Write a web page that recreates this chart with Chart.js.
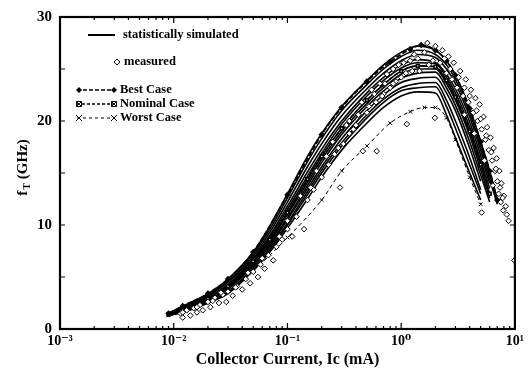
<!DOCTYPE html>
<html>
<head>
<meta charset="utf-8">
<script src="https://cdn.jsdelivr.net/npm/chart.js@4.4.1/dist/chart.umd.min.js"></script>
<style>
  body { margin: 0; background: #fff; }
  canvas { display: block; }
</style>
</head>
<body>
<canvas id="chart" width="528" height="378"></canvas>
<script>
// x grid (mA) shared by the simulated curves
const xGrid = [0.009, 0.012, 0.02, 0.03, 0.05, 0.07, 0.1, 0.15, 0.2, 0.3, 0.5, 0.7, 1, 1.4, 2, 2.5, 3, 4, 5, 6, 7];

// statistically simulated fT curves (GHz)
const simA = [1.5, 2.2, 3.4, 4.8, 7.4, 9.9, 13.0, 16.6, 18.8, 21.4, 23.9, 25.4, 26.6, 27.2, 26.8, 25.8, 24.4, 21.2, 18.0, 15.2, 12.4];
const simI = [1.5, 2.1, 3.3, 4.6, 7.2, 9.6, 12.6, 16.1, 18.3, 21.0, 23.5, 25.0, 26.2, 26.8, 26.4, 25.4, 24.0, 20.8, 17.6, 14.8, 12.2];
const simB = [1.5, 2.1, 3.2, 4.5, 7.0, 9.3, 12.2, 15.6, 17.8, 20.5, 23.1, 24.6, 25.8, 26.4, 26.1, 25.0, 23.6, 20.4, 17.2, 14.4, 12.0];
const simL = [1.5, 2.0, 3.1, 4.3, 6.8, 9.0, 11.8, 15.1, 17.3, 20.0, 22.7, 24.2, 25.4, 25.9, 25.6, 24.5, 23.1, 19.9, 16.7, 14.0, null];
const simC = [1.4, 2.0, 3.0, 4.2, 6.7, 8.8, 11.5, 14.7, 16.9, 19.7, 22.4, 23.9, 25.1, 25.6, 25.5, 24.2, 22.7, 19.4, 16.2, 13.5, null];
const simD = [1.4, 1.9, 2.9, 4.1, 6.5, 8.6, 11.2, 14.4, 16.6, 19.3, 22.0, 23.5, 24.8, 25.3, 25.2, 23.9, 22.3, 19.0, 15.8, 13.0, null];
const simJ = [1.4, 1.9, 2.9, 4.0, 6.4, 8.4, 11.0, 14.1, 16.3, 19.0, 21.7, 23.2, 24.5, 25.0, 25.0, 23.6, 22.0, 18.6, 15.3, 12.6, null];
const simE = [1.4, 1.8, 2.8, 3.9, 6.2, 8.2, 10.7, 13.8, 16.0, 18.7, 21.4, 22.9, 24.1, 24.6, 24.7, 23.2, 21.5, 18.0, 14.8, 12.2, null];
const simF = [1.4, 1.8, 2.7, 3.8, 6.1, 8.0, 10.5, 13.5, 15.6, 18.3, 21.0, 22.5, 23.7, 24.1, 24.2, 22.7, 21.0, 17.4, 14.2, null, null];
const simK = [1.3, 1.7, 2.6, 3.6, 5.9, 7.8, 10.2, 13.2, 15.3, 17.9, 20.6, 22.1, 23.2, 23.6, 23.7, 22.0, 20.0, 16.5, 13.4, null, null];
const simG = [1.3, 1.7, 2.5, 3.5, 5.7, 7.6, 10.0, 12.9, 15.0, 17.6, 20.3, 21.8, 22.9, 23.2, 23.3, 21.4, 19.3, 15.8, 13.0, null, null];
const simH = [1.3, 1.6, 2.5, 3.4, 5.6, 7.4, 9.7, 12.5, 14.6, 17.2, 19.8, 21.3, 22.4, 22.8, 22.7, 20.6, 18.4, 15.0, 12.4, null, null];

// corner cases
const bestX = [0.009, 0.012, 0.02, 0.03, 0.05, 0.1, 0.2, 0.3, 0.5, 0.8, 1.2, 1.5, 2, 2.5, 3, 4, 5, 6, 7];
const bestY = [1.5, 2.2, 3.4, 4.8, 7.4, 12.9, 18.7, 21.3, 23.8, 25.7, 26.9, 27.3, 26.8, 25.8, 24.4, 21.2, 18.0, 15.2, 12.4];
const nominalX = [0.009, 0.012, 0.02, 0.03, 0.05, 0.07, 0.1, 0.15, 0.2, 0.3, 0.5, 0.7, 1, 1.4, 2, 2.5, 3, 4, 5, 6];
const nominalY = [1.4, 1.9, 2.9, 4.1, 6.5, 8.6, 11.2, 14.4, 16.6, 19.3, 22.0, 23.5, 24.8, 25.3, 25.2, 23.9, 22.3, 19.0, 15.8, 13.0];
const worstX = [0.009, 0.012, 0.02, 0.03, 0.05, 0.1, 0.2, 0.3, 0.5, 0.8, 1.2, 1.6, 2, 2.5, 3, 4, 5];
const worstY = [1.3, 1.6, 2.6, 3.7, 5.6, 8.8, 12.4, 15.2, 17.6, 19.8, 20.9, 21.3, 21.3, 20.3, 18.2, 14.6, 12.0];

// measured points
const measuredX = [0.0115, 0.012, 0.013, 0.014, 0.015, 0.016, 0.017, 0.018, 0.02, 0.021, 0.023, 0.025, 0.027, 0.029, 0.03, 0.033, 0.036, 0.04, 0.043, 0.047, 0.05, 0.055, 0.058, 0.063, 0.068, 0.075, 0.08, 0.09, 0.1, 0.11, 0.12, 0.14, 0.15, 0.17, 0.2, 0.23, 0.26, 0.29, 0.31, 0.35, 0.4, 0.46, 0.5, 0.61, 0.6, 0.7, 0.8, 0.9, 1.0, 1.12, 1.1, 1.98,
  0.012, 0.016, 0.022, 0.026, 0.035, 0.045, 0.06, 0.085, 0.1, 0.13, 0.16, 0.22, 0.28, 0.33, 0.38, 0.42, 0.52, 0.58, 0.68, 0.72, 0.85, 1.05, 1.25, 1.4, 1.45, 1.6, 1.75,
  0.18, 0.25, 0.35, 0.45, 0.55, 0.65, 0.75, 0.85, 0.95, 1.2, 1.3,
  1.7, 2.0, 2.3, 2.6, 2.9, 3.3, 3.7, 4.1, 4.5, 4.9, 5.3, 5.7, 6.1, 6.5, 6.9, 7.3, 7.6, 8.0, 8.3, 8.5, 8.8,
  1.9, 2.2, 2.5, 2.8, 3.1, 3.5, 3.9, 4.3, 4.7, 5.1, 5.5, 5.9, 6.3, 6.7, 7.0, 7.2, 7.5, 7.9, 3.6, 4.4, 5.4, 6.4, 5.1, 9.9,
  2.4, 2.7, 3.2, 3.6, 4.0, 4.6, 5.0, 5.6, 6.2, 6.8, 7.4, 7.8];
const measuredY = [1.5, 1.1, 1.8, 1.3, 2.0, 1.6, 2.3, 1.8, 2.6, 2.1, 3.0, 2.5, 3.3, 2.6, 3.6, 3.2, 4.1, 3.8, 4.8, 4.4, 5.5, 5.0, 6.2, 5.8, 7.1, 6.6, 7.9, 8.6, 9.6, 8.9, 10.8, 9.6, 12.4, 13.4, 14.6, 15.8, 16.8, 13.6, 17.8, 18.8, 19.6, 17.1, 20.8, 17.1, 21.8, 22.6, 23.2, 23.8, 24.2, 19.7, 24.6, 20.3,
  1.6, 2.1, 2.7, 3.5, 4.0, 5.4, 6.8, 8.9, 10.4, 12.8, 13.6, 16.6, 17.4, 19.6, 19.2, 20.6, 21.4, 22.6, 22.4, 23.6, 23.6, 25.6, 24.8, 26.0, 24.8, 26.6, 25.4,
  15.2, 18.0, 20.0, 21.8, 23.0, 23.6, 24.5, 25.0, 25.4, 25.8, 26.4,
  27.5, 27.2, 26.8, 26.2, 25.6, 24.8, 24.0, 23.0, 22.2, 21.6, 20.4, 19.4, 18.4, 17.4, 16.4, 15.2, 14.0, 12.8, 11.8, 11.0, 10.4,
  25.8, 25.6, 24.6, 24.0, 23.2, 22.4, 21.8, 20.8, 20.0, 19.2, 18.2, 17.2, 16.2, 15.2, 14.2, 13.0, 12.2, 11.4, 20.6, 18.8, 16.2, 13.8, 11.2, 6.6,
  26.0, 25.0, 24.2, 23.2, 22.4, 21.0, 20.2, 18.6, 17.0, 15.4, 13.6, 12.6];

const xTickValues = [0.001, 0.01, 0.1, 1, 10];
const xTickLabels = ['10\u207B\u00B3', '10\u207B\u00B2', '10\u207B\u00B9', '10\u2070', '10\u00B9'];
const legendLabels = ['statistically simulated', 'measured', 'Best Case', 'Nominal Case', 'Worst Case'];

const FONT = '"Liberation Serif", "DejaVu Serif", serif';

const toPts = (xs, ys) => xs.map((x, i) => ({ x: x, y: ys[i] }));

const simSets = [simA, simI, simB, simL, simC, simD, simJ, simE, simF, simK, simG, simH].map(ys => ({
  type: 'line',
  data: toPts(xGrid, ys),
  borderColor: '#000',
  borderWidth: 1.6,
  pointRadius: 0,
  cubicInterpolationMode: 'monotone',
  fill: false
}));

// frame, inward ticks, legend and y title
const decorPlugin = {
  id: 'decor',
  afterDraw(chart) {
    const ctx = chart.ctx;
    const a = chart.chartArea;
    const xs = chart.scales.x, ys = chart.scales.y;
    ctx.save();
    ctx.strokeStyle = '#000';
    ctx.lineWidth = 2.2;
    ctx.strokeRect(a.left, a.top, a.right - a.left, a.bottom - a.top);

    ctx.lineWidth = 1.2;
    ctx.beginPath();
    for (let v = 0; v <= 30; v += 5) {
      const py = ys.getPixelForValue(v);
      ctx.moveTo(a.left, py); ctx.lineTo(a.left + 5, py);
      ctx.moveTo(a.right, py); ctx.lineTo(a.right - 5, py);
    }
    for (let d = -3; d <= 0; d++) {
      for (let m = 1; m <= 9; m++) {
        const px = xs.getPixelForValue(m * Math.pow(10, d));
        const len = m === 1 ? 6 : 3;
        ctx.moveTo(px, a.bottom); ctx.lineTo(px, a.bottom - len);
        ctx.moveTo(px, a.top); ctx.lineTo(px, a.top + len);
      }
    }
    ctx.stroke();

    // legend
    ctx.fillStyle = '#000';
    ctx.font = 'bold 12.5px ' + FONT;
    ctx.textBaseline = 'middle';
    ctx.lineWidth = 2;
    ctx.beginPath(); ctx.moveTo(88, 35); ctx.lineTo(115, 35); ctx.stroke();
    ctx.fillText(legendLabels[0], 123, 35);

    drawMarker(ctx, 'diamondOpen', 117, 62);
    ctx.fillText(legendLabels[1], 124, 62);

    const rows = [[90, 'diamond', [4, 2]], [104, 'square', [3, 2]], [118, 'cross', [3, 3]]];
    rows.forEach((r, i) => {
      ctx.lineWidth = i === 2 ? 1 : 1.6;
      ctx.setLineDash(r[2]);
      ctx.beginPath(); ctx.moveTo(77, r[0]); ctx.lineTo(115, r[0]); ctx.stroke();
      ctx.setLineDash([]);
      drawMarker(ctx, r[1], 79, r[0]);
      drawMarker(ctx, r[1], 114, r[0]);
      ctx.fillText(legendLabels[i + 2], 120, r[0]);
    });

    // y axis title: f_T (GHz)
    ctx.translate(22, 168);
    ctx.rotate(-Math.PI / 2);
    ctx.textBaseline = 'alphabetic';
    ctx.font = 'bold 15px ' + FONT;
    const w1 = ctx.measureText('f').width;
    ctx.font = 'bold 10px ' + FONT;
    const w2 = ctx.measureText('T').width;
    ctx.font = 'bold 15px ' + FONT;
    const w3 = ctx.measureText(' (GHz)').width;
    const x0 = -(w1 + w2 + w3) / 2;
    ctx.fillText('f', x0, 5);
    ctx.font = 'bold 10px ' + FONT;
    ctx.fillText('T', x0 + w1 + 1, 8);
    ctx.font = 'bold 15px ' + FONT;
    ctx.fillText(' (GHz)', x0 + w1 + w2 + 1, 5);
    ctx.restore();
  }
};

function drawMarker(ctx, kind, x, y) {
  ctx.save();
  ctx.setLineDash([]);
  ctx.lineWidth = 1;
  ctx.strokeStyle = '#000';
  ctx.fillStyle = '#000';
  ctx.beginPath();
  if (kind === 'diamond' || kind === 'diamondOpen') {
    const r = 3;
    ctx.moveTo(x, y - r); ctx.lineTo(x + r, y); ctx.lineTo(x, y + r); ctx.lineTo(x - r, y); ctx.closePath();
    if (kind === 'diamond') ctx.fill(); else ctx.stroke();
  } else if (kind === 'square') {
    ctx.rect(x - 2.5, y - 2.5, 5, 5);
    ctx.moveTo(x - 2.5, y - 2.5); ctx.lineTo(x + 2.5, y + 2.5);
    ctx.moveTo(x + 2.5, y - 2.5); ctx.lineTo(x - 2.5, y + 2.5);
    ctx.stroke();
  } else {
    ctx.moveTo(x - 3, y - 3); ctx.lineTo(x + 3, y + 3);
    ctx.moveTo(x + 3, y - 3); ctx.lineTo(x - 3, y + 3);
    ctx.stroke();
  }
  ctx.restore();
}

new Chart(document.getElementById('chart').getContext('2d'), {
  data: {
    datasets: [
      {
        type: 'scatter',
        data: toPts(measuredX, measuredY),
        pointStyle: 'rectRot',
        pointRadius: 2.8,
        borderWidth: 1,
        borderColor: '#000',
        backgroundColor: '#fff'
      },
      {
        type: 'line',
        data: toPts(bestX, bestY),
        borderColor: '#000',
        borderWidth: 1.8,
        borderDash: [5, 2],
        pointStyle: 'rectRot',
        pointRadius: 2,
        pointBackgroundColor: '#000',
        cubicInterpolationMode: 'monotone'
      },
      {
        type: 'line',
        data: toPts(nominalX, nominalY),
        borderColor: '#000',
        borderWidth: 1.6,
        borderDash: [4, 2],
        pointStyle: 'rect',
        pointRadius: 2,
        pointBackgroundColor: '#fff',
        cubicInterpolationMode: 'monotone'
      },
      {
        type: 'line',
        data: toPts(worstX, worstY),
        borderColor: '#000',
        borderWidth: 1,
        borderDash: [4, 3],
        pointStyle: 'crossRot',
        pointRadius: 2.5,
        cubicInterpolationMode: 'monotone'
      },
      ...simSets
    ]
  },
  options: {
    responsive: false,
    animation: false,
    devicePixelRatio: 1,
    layout: { padding: { top: 7, right: 12, left: 0, bottom: 0 } },
    plugins: { legend: { display: false }, tooltip: { enabled: false } },
    scales: {
      x: {
        type: 'logarithmic',
        min: 0.001,
        max: 10,
        afterBuildTicks: scale => { scale.ticks = xTickValues.map(v => ({ value: v })); },
        afterFit: scale => { scale.height = 49; },
        grid: { display: false, drawTicks: false },
        border: { display: false },
        ticks: {
          color: '#000',
          padding: 4,
          maxRotation: 0,
          autoSkip: false,
          font: { family: FONT, size: 14, weight: 'bold' },
          callback: (value) => {
            const i = xTickValues.findIndex(v => Math.abs(v - value) < v * 1e-6);
            return i >= 0 ? xTickLabels[i] : '';
          }
        },
        title: {
          display: true,
          text: 'Collector Current, Ic (mA)',
          color: '#000',
          font: { family: FONT, size: 16, weight: 'bold' },
          padding: { top: 0, bottom: 9 }
        }
      },
      y: {
        min: 0,
        max: 30,
        afterFit: scale => { scale.width = 60; },
        grid: { display: false, drawTicks: false },
        border: { display: false },
        ticks: {
          stepSize: 10,
          color: '#000',
          padding: 8,
          font: { family: FONT, size: 15, weight: 'bold' }
        }
      }
    }
  },
  plugins: [decorPlugin]
});
</script>
</body>
</html>
